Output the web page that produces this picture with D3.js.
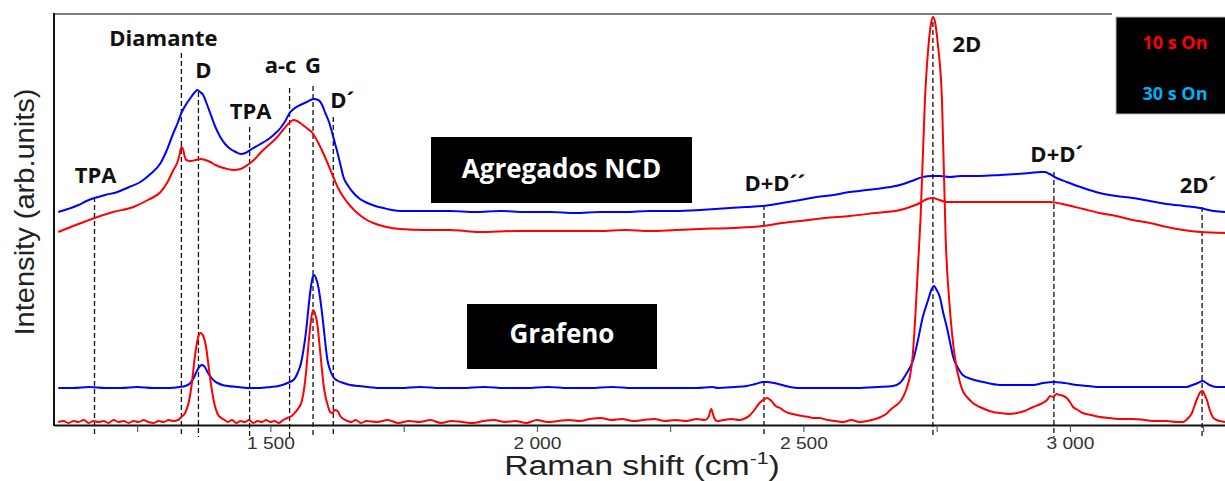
<!DOCTYPE html>
<html lang="es">
<head>
<meta charset="UTF-8">
<title>Raman</title>
<script src="https://cdn.jsdelivr.net/npm/d3@7"></script>
<style>
  html, body { margin: 0; padding: 0; background: #fff; }
  svg { display: block; }
  .lbl { font-family: "Open Sans", sans-serif; font-weight: 700; }
  .ax { font-family: "Liberation Sans", Arial, sans-serif; }
</style>
</head>
<body>
<svg id="chart" width="1225" height="481"></svg>
<script>
// spectra, [Raman shift cm-1, intensity arb. units]
var ncd30 = [[1102,214],[1120,217],[1140,221],[1155,225],[1170,228],[1190,231],[1213,234],[1235,239],[1256,244],[1275,252],[1294,263],[1305,275],[1318,293],[1326,303],[1333,313],[1341,321],[1350,328],[1357,333],[1363,336],[1368,334],[1374,331],[1380,323],[1387,313],[1396,300],[1406,289],[1415,282],[1425,277],[1435,274],[1444,272],[1453,273],[1462,276],[1478,281],[1494,286],[1506,291],[1519,298],[1528,305],[1536,313],[1546,318],[1556,321],[1568,324],[1581,327],[1590,326],[1597,321],[1603,313],[1610,304],[1616,293],[1621,283],[1626,273],[1632,260],[1637,249],[1646,240],[1656,233],[1668,227],[1682,223],[1697,220],[1712,218],[1728,216],[1744,215],[1790,215],[1837,215],[1884,214],[1931,215],[1978,214],[2025,214],[2072,213],[2119,214],[2165,214],[2212,215],[2260,215],[2306,216],[2335,217],[2362,218],[2392,219],[2424,220],[2460,223],[2494,226],[2525,229],[2556,231],[2587,234],[2619,236],[2650,238],[2681,241],[2703,245],[2724,249],[2740,250],[2756,250],[2775,249],[2794,250],[2830,250],[2869,251],[2900,252],[2925,253],[2945,254],[2953,254],[2962,252],[2975,248],[2994,244],[3025,238],[3056,233],[3087,230],[3118,228],[3150,225],[3182,222],[3213,220],[3244,218],[3270,215],[3291,214]];

var ncd10 = [[1102,194],[1135,201],[1170,208],[1205,214],[1243,219],[1270,226],[1294,234],[1306,243],[1318,256],[1325,263],[1329,270],[1333,279],[1336,277],[1339,270],[1342,266],[1350,265],[1360,266],[1369,267],[1378,266],[1387,264],[1397,261],[1406,259],[1419,257],[1431,256],[1444,257],[1457,261],[1469,266],[1481,273],[1497,281],[1513,289],[1525,297],[1537,304],[1543,306],[1550,305],[1556,303],[1568,298],[1579,293],[1589,284],[1599,273],[1608,262],[1618,249],[1627,238],[1637,229],[1650,220],[1663,213],[1678,207],[1693,203],[1718,199],[1744,197],[1790,196],[1837,196],[1865,195],[1894,194],[1960,195],[2025,195],[2072,195],[2119,195],[2165,196],[2212,195],[2260,196],[2306,197],[2365,198],[2424,200],[2460,203],[2494,205],[2540,208],[2587,210],[2635,213],[2681,216],[2700,219],[2719,223],[2732,227],[2743,228],[2755,226],[2769,224],[2820,224],[2869,224],[2915,224],[2962,224],[2994,221],[3025,217],[3056,213],[3087,210],[3118,206],[3150,203],[3182,199],[3213,196],[3244,194],[3291,193]];

var gr30 = [[1102,38],[1130,38],[1160,39],[1190,38],[1220,38],[1250,39],[1280,38],[1310,38],[1330,39],[1340,40],[1350,43],[1356,48],[1362,55],[1368,60],[1372,61],[1377,59],[1382,54],[1388,49],[1395,45],[1401,43],[1410,41],[1420,40],[1440,39],[1462,38],[1480,38],[1500,39],[1515,40],[1532,43],[1545,47],[1551,53],[1557,62],[1562,76],[1567,95],[1571,116],[1575,135],[1579,148],[1582,151],[1586,147],[1590,139],[1594,125],[1598,108],[1602,88],[1607,66],[1612,56],[1618,49],[1627,45],[1637,43],[1650,41],[1665,40],[1682,39],[1710,38],[1744,38],[1780,39],[1820,38],[1860,38],[1900,39],[1940,38],[1980,38],[2020,39],[2060,38],[2100,38],[2140,39],[2180,38],[2220,38],[2260,38],[2300,38],[2329,39],[2340,38],[2370,39],[2394,40],[2410,42],[2425,44],[2432,44],[2445,43],[2460,41],[2475,39],[2490,38],[2520,38],[2560,38],[2600,38],[2640,39],[2668,40],[2681,43],[2694,53],[2706,66],[2715,86],[2724,109],[2734,126],[2740,136],[2745,140],[2750,136],[2756,129],[2762,114],[2769,99],[2775,84],[2781,69],[2790,58],[2799,51],[2815,47],[2837,44],[2869,41],[2900,41],[2931,41],[2950,43],[2970,44],[2990,43],[3013,41],[3035,40],[3056,39],[3100,39],[3150,39],[3200,39],[3219,39],[3230,41],[3240,43],[3249,45],[3256,43],[3262,41],[3275,39],[3291,39]];

var gr10 = [[1102,4],[1112,5],[1121,3],[1131,5],[1140,4],[1150,6],[1159,3],[1168,5],[1178,4],[1187,5],[1196,3],[1206,6],[1215,4],[1225,5],[1234,3],[1243,5],[1253,4],[1262,6],[1271,4],[1281,3],[1290,5],[1300,4],[1309,6],[1318,5],[1327,6],[1333,9],[1340,13],[1346,22],[1352,40],[1358,68],[1364,88],[1369,93],[1374,90],[1379,80],[1384,60],[1389,40],[1395,22],[1401,12],[1408,8],[1414,6],[1420,4],[1428,6],[1436,3],[1444,5],[1452,4],[1460,6],[1468,3],[1476,5],[1484,4],[1492,6],[1500,4],[1508,5],[1516,3],[1524,6],[1532,8],[1540,10],[1547,14],[1553,18],[1559,25],[1564,40],[1568,60],[1572,85],[1576,105],[1580,116],[1584,112],[1588,102],[1592,82],[1596,60],[1600,40],[1604,28],[1608,20],[1612,14],[1616,13],[1621,16],[1626,15],[1631,10],[1637,7],[1645,5],[1652,4],[1660,6],[1670,3],[1680,5],[1700,4],[1720,6],[1740,3],[1760,5],[1780,4],[1800,6],[1820,3],[1840,5],[1860,4],[1880,3],[1900,5],[1920,6],[1940,4],[1960,5],[1980,3],[2000,6],[2020,4],[2040,5],[2060,6],[2080,5],[2100,7],[2120,8],[2140,6],[2160,7],[2180,5],[2200,6],[2220,7],[2240,5],[2260,6],[2280,5],[2300,7],[2315,6],[2322,9],[2327,17],[2332,9],[2338,5],[2350,6],[2365,7],[2380,6],[2392,8],[2400,11],[2408,16],[2416,22],[2424,26],[2432,28],[2440,25],[2448,20],[2456,18],[2464,15],[2472,13],[2480,12],[2488,11],[2498,10],[2510,9],[2520,8],[2530,8],[2545,6],[2560,5],[2575,4],[2590,6],[2605,4],[2620,5],[2635,7],[2645,9],[2655,12],[2663,16],[2672,20],[2681,24],[2688,30],[2694,38],[2700,50],[2705,70],[2710,110],[2715,160],[2720,210],[2728,326],[2734,376],[2739,401],[2743,409],[2747,404],[2752,383],[2760,326],[2767,186],[2775,116],[2784,69],[2794,43],[2800,34],[2807,29],[2818,23],[2831,19],[2844,16],[2856,14],[2869,13],[2885,12],[2901,13],[2915,15],[2931,19],[2945,22],[2957,26],[2963,30],[2968,29],[2975,32],[2981,31],[2988,30],[2994,28],[3000,24],[3006,19],[3015,16],[3024,13],[3040,11],[3056,9],[3075,8],[3095,7],[3118,7],[3140,6],[3160,5],[3182,5],[3200,4],[3212,4],[3222,8],[3229,13],[3235,22],[3240,29],[3245,34],[3249,35],[3253,31],[3257,26],[3263,15],[3268,9],[3275,6],[3281,5],[3291,4]];

// band assignments
var bandNames = ["TPA", "Diamante", "D", "TPA", "a-c", "G", "D\u00b4", "D+D\u00b4\u00b4", "2D", "D+D\u00b4", "2D\u00b4"];
var bandShift = [1170, 1333, 1365, 1461, 1536, 1580, 1618, 2426, 2743, 2970, 3248];

var majorTicks = [1500, 2000, 2500, 3000];
var minorTicks = [1250, 1750, 2250, 2750, 3250];
var legendNames = ["10 s On", "30 s On"];
var groupNames = ["Agregados NCD", "Grafeno"];

var svg = d3.select("#chart");
var x = d3.scaleLinear().domain([1094, 3291]).range([54, 1225]);
var y = d3.scaleLinear().domain([0, 412]).range([426, 14]);

var fmt = d3.formatLocale({decimal: ",", thousands: " ", grouping: [3], currency: ["", ""]}).format(",");

// frame
svg.append("line").attr("x1", 54).attr("x2", 1112).attr("y1", 14).attr("y2", 14)
  .attr("stroke", "#555").attr("stroke-width", 1.5);
svg.append("line").attr("x1", 54).attr("x2", 54).attr("y1", 13).attr("y2", 426)
  .attr("stroke", "#111").attr("stroke-width", 2);

// x axis
var xAxis = d3.axisBottom(x)
  .tickValues(majorTicks.concat(minorTicks))
  .tickSize(7)
  .tickSizeOuter(0)
  .tickFormat(function(d) { return majorTicks.indexOf(d) >= 0 ? fmt(d) : ""; });
var gx = svg.append("g").attr("class", "ax").attr("transform", "translate(0,425)").call(xAxis);
gx.select(".domain").attr("stroke", "#111").attr("stroke-width", 2);
gx.selectAll(".tick line").attr("stroke", "#444").attr("stroke-width", 1);
gx.selectAll(".tick").filter(function(d) { return majorTicks.indexOf(d) < 0; }).select("text").remove();
gx.selectAll(".tick text").attr("y", 24).attr("dy", 0)
  .attr("font-size", 16).attr("fill", "#333")
  .attr("textLength", 48).attr("lengthAdjust", "spacingAndGlyphs");

// axis titles
var xt = svg.append("text").attr("class", "ax")
  .attr("transform", "translate(642,475) scale(1.25,1)")
  .attr("text-anchor", "middle").attr("font-size", 27).attr("fill", "#222");
xt.append("tspan").text("Raman shift (cm");
xt.append("tspan").attr("font-size", 17).attr("dy", -11).text("-1");
xt.append("tspan").attr("dy", 11).text(")");

svg.append("text").attr("class", "ax")
  .attr("transform", "translate(34,212) rotate(-90)")
  .attr("text-anchor", "middle").attr("font-size", 27).attr("fill", "#222")
  .attr("textLength", 247).attr("lengthAdjust", "spacingAndGlyphs")
  .text("Intensity (arb.units)");

// band markers: line top, label offset, label baseline (px)
var bandLayout = [[197, 1, 183], [53, -18, 46], [92, 5, 78], [127, 1, 119], [88, -9, 73], [86, 0, 73],
                  [117, 9, 108], [205, 11, 191], [22, 34, 52], [172, 3, 162], [207, -4, 193]];
bandShift.forEach(function(s, i) {
  var lx = x(s), lay = bandLayout[i];
  svg.append("line").attr("x1", lx).attr("x2", lx).attr("y1", lay[0]).attr("y2", 437)
    .attr("stroke", "#111").attr("stroke-width", 1.3).attr("stroke-dasharray", "5,3");
  svg.append("text").attr("class", "lbl").attr("x", lx + lay[1]).attr("y", lay[2])
    .attr("text-anchor", "middle").attr("font-size", 22).attr("fill", "#111")
    .text(bandNames[i]);
});

// spectra
var line = d3.line().x(function(d) { return x(d[0]); }).y(function(d) { return y(d[1]); })
  .curve(d3.curveMonotoneX);
[[ncd10, "#ff0000"], [ncd30, "#0000ff"], [gr30, "#0000ff"], [gr10, "#ff0000"]].forEach(function(s) {
  svg.append("path").datum(s[0]).attr("d", line)
    .attr("fill", "none").attr("stroke", s[1]).attr("stroke-width", 2)
    .attr("stroke-linejoin", "round");
});

// sample boxes
var boxes = [[431, 137, 261, 66, 178], [467, 304, 190, 65, 343]];
boxes.forEach(function(b, i) {
  svg.append("rect").attr("x", b[0]).attr("y", b[1]).attr("width", b[2]).attr("height", b[3])
    .attr("fill", "#000");
  svg.append("text").attr("class", "lbl").attr("x", b[0] + b[2] / 2).attr("y", b[4])
    .attr("text-anchor", "middle").attr("font-size", 26).attr("fill", "#fff")
    .text(groupNames[i]);
});

// legend
svg.append("rect").attr("x", 1116).attr("y", 17).attr("width", 112).attr("height", 97)
  .attr("fill", "#000").attr("stroke", "#bbb").attr("stroke-width", 1);
var legColors = ["#ff0000", "#00b0f0"];
legendNames.forEach(function(n, i) {
  svg.append("text").attr("class", "lbl").attr("x", 1175).attr("y", 49 + i * 51)
    .attr("text-anchor", "middle").attr("font-size", 18).attr("fill", legColors[i])
    .text(n);
});
</script>
</body>
</html>
